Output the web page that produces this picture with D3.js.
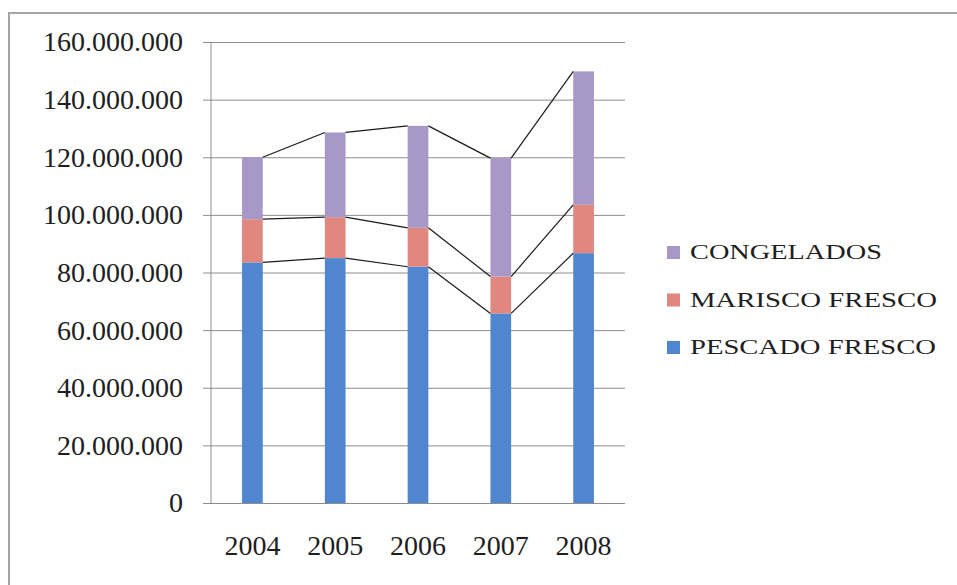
<!DOCTYPE html>
<html>
<head>
<meta charset="utf-8">
<script src="https://cdnjs.cloudflare.com/ajax/libs/d3/7.8.5/d3.min.js"></script>
<style>
    body{margin:0;background:#fff;}
    svg{display:block;}
</style>
</head>
<body>
<div id="viz"></div>
<script>
var years = ["2004","2005","2006","2007","2008"];
var pescadoFresco = [83500000, 85000000, 82000000, 65800000, 86700000];
var mariscoFresco = [15000000, 14200000, 13500000, 12800000, 16800000];
var congelados = [21500000, 29400000, 35400000, 41100000, 46300000];
var yTicks = [0, 20000000, 40000000, 60000000, 80000000, 100000000, 120000000, 140000000, 160000000];

var seriesNames = ["PESCADO FRESCO","MARISCO FRESCO","CONGELADOS"];
var colors = ["#4f86cf","#e0877f","#a898c8"];

var svg = d3.select("#viz")
    .append("svg")
    .attr("width",957)
    .attr("height",585);

// cornice grigia del grafico
svg.append("rect")
    .attr("x",9)
    .attr("y",13)
    .attr("width",1000)
    .attr("height",600)
    .attr("fill","none")
    .attr("stroke","#a4a4a4")
    .attr("stroke-width",2);

var plotLeft = 211, plotRight = 625, plotTop = 42, plotBottom = 503;

var x = d3.scaleBand()
    .domain(years)
    .range([plotLeft,plotRight])
    .paddingInner(0.75)
    .paddingOuter(0.375);

var y = d3.scaleLinear()
    .domain([0,160000000])
    .range([plotBottom,plotTop]);

var es = d3.formatLocale({decimal:",",thousands:".",grouping:[3],currency:["","€"]});
var fmt = es.format(",");

var rows = years.map(function(d,i){
    return {year:d, p:pescadoFresco[i], m:mariscoFresco[i], c:congelados[i]};
});
var stack = d3.stack().keys(["p","m","c"]);
var layers = stack(rows);

var yAxis = svg.append("g")
    .attr("transform","translate(203,0)")
    .call(d3.axisLeft(y).tickValues(yTicks).tickSize(-(plotRight-203)).tickPadding(20).tickFormat(fmt));
yAxis.select(".domain").remove();
yAxis.selectAll("line").attr("stroke","#8c8c8c");
yAxis.selectAll("text")
    .attr("font-family","'Liberation Serif', serif")
    .attr("font-size",28)
    .attr("fill","#1e1e1e");

svg.append("line")
    .attr("x1",plotLeft).attr("x2",plotLeft)
    .attr("y1",plotTop).attr("y2",plotBottom)
    .attr("stroke","#8c8c8c");

var xAxis = svg.append("g")
    .attr("transform","translate(0,"+plotBottom+")")
    .call(d3.axisBottom(x).tickSize(0).tickPadding(32));
xAxis.select(".domain").remove();
xAxis.selectAll("text")
    .attr("font-family","'Liberation Serif', serif")
    .attr("font-size",28)
    .attr("fill","#1e1e1e");

var gs = svg.selectAll("g.layer")
    .data(layers)
    .enter()
    .append("g")
    .attr("class","layer")
    .attr("fill",function(d,i){return colors[i];});

gs.selectAll("rect")
    .data(function(d){return d;})
    .enter()
    .append("rect")
    .attr("x",function(d){return x(d.data.year);})
    .attr("y",function(d){return y(d[1]);})
    .attr("width",x.bandwidth())
    .attr("height",function(d){return y(d[0]) - y(d[1]);});

// linee di serie tra le colonne
layers.forEach(function(layer){
    for(var i=0;i<layer.length-1;i++){
        svg.append("line")
            .attr("x1",x(years[i]) + x.bandwidth())
            .attr("y1",y(layer[i][1]))
            .attr("x2",x(years[i+1]))
            .attr("y2",y(layer[i+1][1]))
            .attr("stroke","#1a1a1a")
            .attr("stroke-width",1.2);
    }
});

var legendWidths = [246,247,192];
var legend = svg.selectAll("g.legend")
    .data(seriesNames)
    .enter()
    .append("g")
    .attr("class","legend")
    .attr("transform",function(d,i){
        return "translate(667,"+(354 - i*47.5)+")";
    });
legend.append("rect")
    .attr("x",0)
    .attr("y",-13)
    .attr("width",13)
    .attr("height",13)
    .attr("fill",function(d,i){return colors[i];});
legend.append("text")
    .attr("x",23)
    .attr("y",0)
    .attr("font-family","'Liberation Serif', serif")
    .attr("font-size",21)
    .attr("fill","#1e1e1e")
    .attr("textLength",function(d,i){return legendWidths[i];})
    .attr("lengthAdjust","spacingAndGlyphs")
    .text(function(d){return d;});
</script>
</body>
</html>
